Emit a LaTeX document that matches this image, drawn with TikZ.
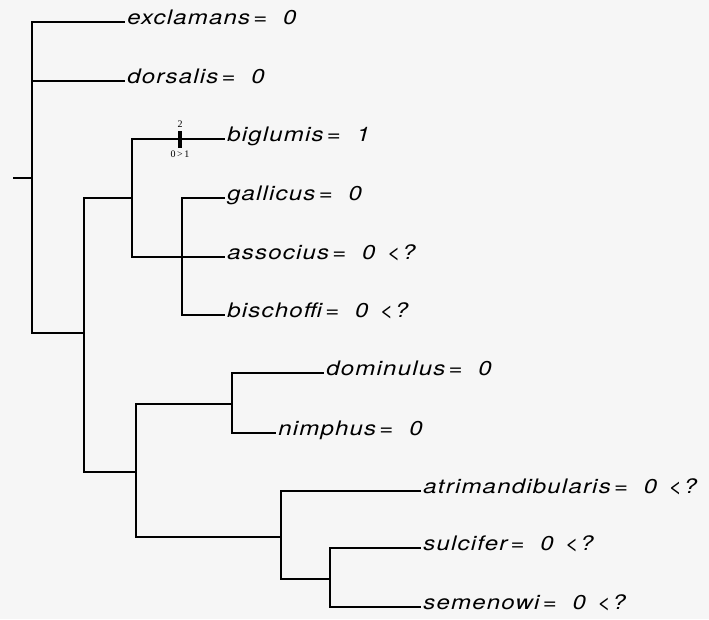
\documentclass[tikz,border=0pt]{standalone}
\usepackage{fontspec}
\setmainfont{TeX Gyre Heros}[FakeStretch=1.2, LetterSpace=6]
\newfontfamily\tickfont{Liberation Serif}
\usetikzlibrary{positioning}

\begin{document}
\begin{tikzpicture}[x=1pt, y=-1pt, line width=1.8pt,
    leaf/.style = {anchor=west, inner sep=1.5pt, font=\itshape\fontsize{20}{23}\selectfont, text height=1.5ex, text depth=0.5ex},
    tick/.style = {inner sep=0.5pt, font=\tickfont\fontsize{10}{11}\selectfont}]
    \fill[gray!7] (0,0) rectangle (709,619);
    \useasboundingbox (0,0) rectangle (709,619);

    \node[leaf] (exclamans)        at (125,22)  {exclamans\,= \ 0};
    \node[leaf] (dorsalis)         at (125,81)  {dorsalis\,= \ 0};
    \node[leaf] (biglumis)         at (225,139) {biglumis\,= \ 1};
    \node[leaf] (gallicus)         at (225,198) {gallicus\,= \ 0};
    \node[leaf] (associus)         at (225,257) {associus\,= \ 0 \,<?};
    \node[leaf] (bischoffi)        at (225,315) {bischoffi\,= \ 0 \,<?};
    \node[leaf] (dominulus)        at (324,373) {dominulus\,= \ 0};
    \node[leaf] (nimphus)          at (276,433) {nimphus\,= \ 0};
    \node[leaf] (atrimandibularis) at (421,491) {atrimandibularis\,= \ 0 \,<?};
    \node[leaf] (sulcifer)         at (421,548) {sulcifer\,= \ 0 \,<?};
    \node[leaf] (semenowi)         at (421,607) {semenowi\,= \ 0 \,<?};

    \coordinate (stub) at (13,178);
    \coordinate (r) at (32,178);
    \coordinate (a) at (84,333);
    \coordinate (b) at (132,198);
    \coordinate (d) at (182,257);
    \coordinate (c) at (136,472);
    \coordinate (e) at (232,404);
    \coordinate (f) at (281,537);
    \coordinate (g) at (330,579);

    \draw (stub) -- (r);
    \draw (r) |- (exclamans.west);
    \draw (r) |- (dorsalis.west);
    \draw (r) |- (a);

    \draw (a) |- (b);
    \draw (a) |- (c);

    \draw (b) |- (biglumis.west);
    \draw (b) |- (d);
    \draw (d) |- (gallicus.west);
    \draw (d) -- (associus.west);
    \draw (d) |- (bischoffi.west);

    \draw (c) |- (e);
    \draw (c) |- (f);
    \draw (e) |- (dominulus.west);
    \draw (e) |- (nimphus.west);
    \draw (f) |- (atrimandibularis.west);
    \draw (f) |- (g);
    \draw (g) |- (sulcifer.west);
    \draw (g) |- (semenowi.west);

    \node[fill, inner sep=0, minimum width=4pt, minimum height=17pt] (mark) at (180,139) {};
    \node[tick, above=1pt of mark] (steps) {2};
    \node[tick, below=1pt of mark] (change) {0\,>\,1};
\end{tikzpicture}
\end{document}
